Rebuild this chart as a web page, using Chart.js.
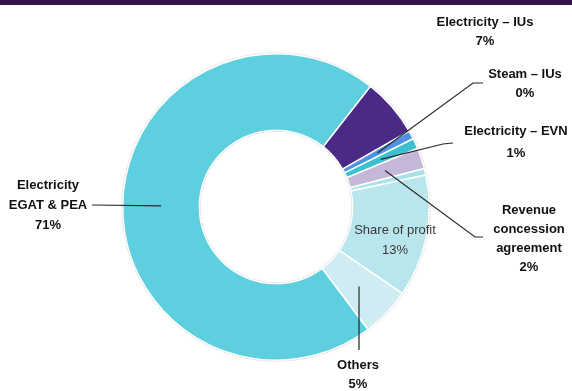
<!DOCTYPE html>
<html>
<head>
<meta charset="utf-8">
<script src="https://cdn.jsdelivr.net/npm/chart.js@4.4.1/dist/chart.umd.min.js"></script>
<style>
  html, body { margin: 0; padding: 0; background: #ffffff; }
  #wrap { position: relative; width: 572px; height: 391px; overflow: hidden; }
  #topbar { position: absolute; left: 0; top: 0; width: 572px; height: 5px; background: #32174f; z-index: 2; }
  canvas { position: absolute; left: 0; top: 0; }
</style>
</head>
<body>
<div id="wrap">
  <div id="topbar"></div>
  <canvas id="c" width="572" height="391"></canvas>
</div>
<script>
// ---- data ----
const categories = ['Electricity – IUs', 'Steam – IUs', 'Electricity – EVN', 'Revenue concession agreement', 'Other', 'Share of profit', 'Others', 'Electricity EGAT & PEA'];
const values = [6.2, 0.9, 1.1, 2.2, 0.7, 12.9, 5.2, 70.8];
const percentLabels = ['7%', '0%', '1%', '2%', '', '13%', '5%', '71%'];
const nameLines = [['Electricity – IUs'], ['Steam – IUs'], ['Electricity – EVN'], ['Revenue', 'concession', 'agreement'], [], ['Share of profit'], ['Others'], ['Electricity', 'EGAT & PEA']];

// ---- styles ----
const colors = ['#4b2a87', '#4e92e3', '#3cc0cf', '#c5b7d8', '#a9e1eb', '#b9e5ec', '#cfecf2', '#5ecfdf'];
const labelStyle = [
  { x: 485, y: 22, lh: 19, leader: null },
  { x: 525, y: 74, lh: 19, leader: [[473, 83], [483, 83]] },
  { x: 516, y: 131, lh: 22, leader: [[443, 144], [453, 143]] },
  { x: 529, y: 210, lh: 19, leader: [[475, 237], [483, 237]] },
  null,
  { x: 395, y: 230, lh: 20, leader: null, regular: true },
  { x: 358, y: 365, lh: 19, leader: [[359, 350]] },
  { x: 48, y: 185, lh: 20, leader: [[92, 205]] }
];

const calloutPlugin = {
  id: 'callouts',
  afterDatasetsDraw(chart) {
    const ctx = chart.ctx;
    const meta = chart.getDatasetMeta(0);
    const first = meta.data[0];
    // faint outline rings
    ctx.save();
    ctx.strokeStyle = '#dcdcdc';
    ctx.lineWidth = 1;
    ctx.setLineDash([2, 1]);
    ctx.beginPath();
    ctx.arc(first.x, first.y, first.outerRadius + 1, 0, Math.PI * 2);
    ctx.stroke();
    ctx.beginPath();
    ctx.arc(first.x, first.y, first.innerRadius - 1, 0, Math.PI * 2);
    ctx.stroke();
    ctx.restore();

    meta.data.forEach((arc, i) => {
      const st = labelStyle[i];
      if (!st) return;
      const mid = (arc.startAngle + arc.endAngle) / 2;
      const r = (arc.innerRadius + arc.outerRadius) / 2;
      const ax = arc.x + Math.cos(mid) * r;
      const ay = arc.y + Math.sin(mid) * r;
      if (st.leader) {
        ctx.save();
        ctx.strokeStyle = '#2a2a2a';
        ctx.lineWidth = 1.2;
        ctx.beginPath();
        ctx.moveTo(ax, ay);
        st.leader.forEach(p => ctx.lineTo(p[0], p[1]));
        ctx.stroke();
        ctx.restore();
      }
      const lines = nameLines[i].concat([percentLabels[i]]);
      ctx.save();
      ctx.textAlign = 'center';
      ctx.textBaseline = 'middle';
      if (st.regular) {
        ctx.fillStyle = '#3a3a3a';
        ctx.font = '13px "Liberation Sans", Arial, sans-serif';
      } else {
        ctx.fillStyle = '#111111';
        ctx.font = 'bold 13px "Liberation Sans", Arial, sans-serif';
      }
      lines.forEach((t, k) => ctx.fillText(t, st.x, st.y + k * st.lh));
      ctx.restore();
    });
  }
};

new Chart(document.getElementById('c'), {
  type: 'doughnut',
  data: {
    labels: categories,
    datasets: [{
      data: values,
      backgroundColor: colors,
      borderColor: '#ffffff',
      borderWidth: 1.5,
      hoverOffset: 0
    }]
  },
  options: {
    responsive: false,
    animation: false,
    rotation: 38,
    cutout: '50%',
    layout: { padding: { left: 122, right: 142, top: 53, bottom: 30 } },
    plugins: {
      legend: { display: false },
      tooltip: { enabled: false }
    }
  },
  plugins: [calloutPlugin]
});
</script>
</body>
</html>
